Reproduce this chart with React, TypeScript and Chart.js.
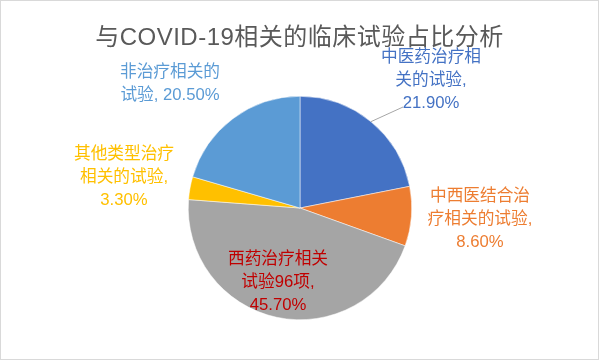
import React, { useEffect, useRef } from "react";
import { Chart, registerables } from "chart.js";

Chart.register(...registerables);

const categories = [
  "中医药治疗相关的试验",
  "中西医结合治疗相关的试验",
  "西药治疗相关试验96项",
  "其他类型治疗相关的试验",
  "非治疗相关的试验",
];
const shares = [21.9, 8.6, 45.7, 3.3, 20.5];
const labelLines = [
  ["中医药治疗相", "关的试验,", "21.90%"],
  ["中西医结合治", "疗相关的试验,", "8.60%"],
  ["西药治疗相关", "试验96项,", "45.70%"],
  ["其他类型治疗", "相关的试验,", "3.30%"],
  ["非治疗相关的", "试验, 20.50%"],
];
const titleText = "与COVID-19相关的临床试验占比分析";

const sliceColors = ["#4472C4", "#ED7D31", "#A5A5A5", "#FFC000", "#5B9BD5"];
const labelColors = ["#4472C4", "#ED7D31", "#C00000", "#FFC000", "#5B9BD5"];
// label block first-line centre, relative to pie centre (px)
const labelOffsets = [
  [131, -151],
  [180, -12],
  [-22, 51],
  [-176, -54],
  [-130, -136],
];
const FONT = '"Liberation Sans", "Noto Sans CJK SC", sans-serif';

const labelPlugin = {
  id: "customLabels",
  afterDraw(chart: any) {
    const ctx = chart.ctx;
    ctx.save();
    // title
    ctx.fillStyle = "#595959";
    ctx.font = `24px ${FONT}`;
    ctx.textAlign = "center";
    ctx.textBaseline = "middle";
    try {
      (ctx as any).letterSpacing = "0.5px";
    } catch (e) {}
    ctx.fillText(titleText, chart.width / 2, 37);
    try {
      (ctx as any).letterSpacing = "0px";
    } catch (e) {}

    const meta = chart.getDatasetMeta(0);
    const arc0 = meta.data[0];
    const cx = arc0.x;
    const cy = arc0.y;
    const r = arc0.outerRadius;
    ctx.font = `16.7px ${FONT}`;
    meta.data.forEach((arc: any, i: number) => {
      const [dx, dy] = labelOffsets[i];
      ctx.fillStyle = labelColors[i];
      labelLines[i].forEach((line, j) => {
        ctx.fillText(line, cx + dx, cy + dy + j * 23);
      });
    });
    // leader line for first slice
    const mid = (arc0.startAngle + arc0.endAngle) / 2;
    const ex = cx + Math.cos(mid) * r;
    const ey = cy + Math.sin(mid) * r;
    ctx.strokeStyle = "#A6A6A6";
    ctx.lineWidth = 1;
    ctx.beginPath();
    ctx.moveTo(ex, ey);
    ctx.lineTo(cx + 103, cy - 101);
    ctx.stroke();
    ctx.restore();
  },
};

export default function App() {
  const ref = useRef<HTMLCanvasElement>(null);
  useEffect(() => {
    document.body.style.margin = "0";
    const chart = new Chart(ref.current!, {
      type: "pie",
      data: {
        labels: categories,
        datasets: [
          {
            data: shares,
            backgroundColor: sliceColors,
            borderColor: "#FFFFFF",
            borderWidth: 0.5,
          },
        ],
      },
      options: {
        animation: false,
        responsive: false,
        layout: { padding: { top: 95, bottom: 39, left: 1, right: 0 } },
        plugins: {
          legend: { display: false },
          tooltip: { enabled: false },
          title: { display: false },
        },
      },
      plugins: [labelPlugin],
    });
    return () => chart.destroy();
  }, []);
  return (
    <div
      style={{
        width: 599,
        height: 360,
        boxSizing: "border-box",
        border: "1px solid #D9D9D9",
        background: "#FFFFFF",
        position: "relative",
      }}
    >
      <canvas
        ref={ref}
        width={597}
        height={358}
        style={{ display: "block", width: 597, height: 358 }}
      />
    </div>
  );
}
